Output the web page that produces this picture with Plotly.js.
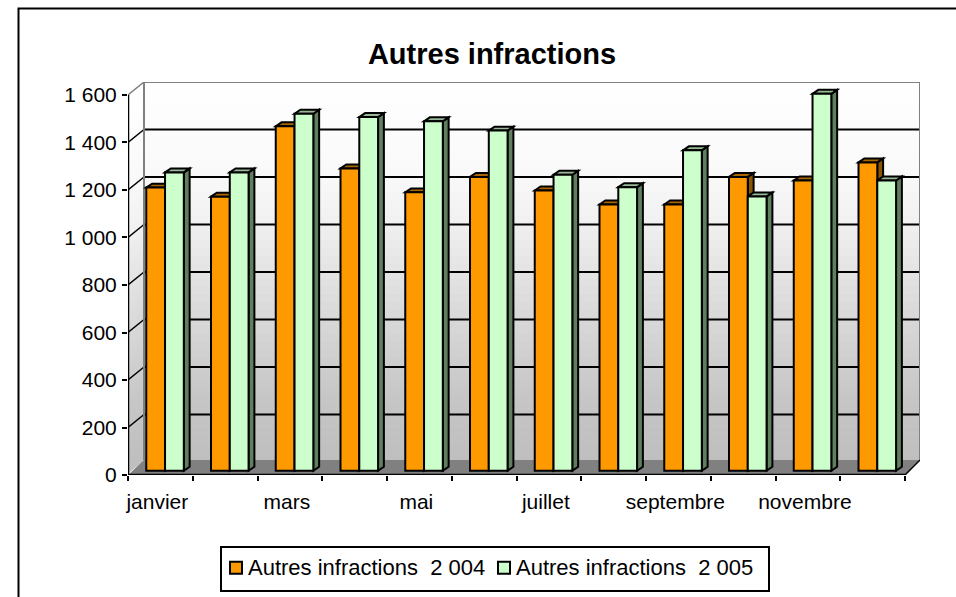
<!DOCTYPE html>
<html>
<head>
<meta charset="utf-8">
<script src="https://cdn.plot.ly/plotly-3.0.1.min.js"></script>
<style>html,body{margin:0;padding:0;background:#fff;overflow:hidden}</style>
</head>
<body>
<div id="chart" style="width:956px;height:597px"></div>
<script>
var months = ['janvier','février','mars','avril','mai','juin','juillet','août','septembre','octobre','novembre','décembre'];
var monthLabels = ['janvier','','mars','','mai','','juillet','','septembre','','novembre',''];
var values2004 = [1192,1154,1450,1273,1172,1237,1180,1121,1121,1237,1222,1298];
var values2005 = [1256,1256,1503,1489,1471,1432,1246,1194,1349,1155,1587,1222];
var yTickVals = [0,200,400,600,800,1000,1200,1400,1600];
var yTickText = ['0','200','400','600','800','1 000','1 200','1 400','1 600'];
var name2004 = 'Autres infractions\u00A0\u00A02 004';
var name2005 = 'Autres infractions\u00A0\u00A02 005';

var FONT = 'Liberation Sans, Arial, sans-serif';
var xMin = -0.5, xFront = 11.5, xMax = 11.7317;
var wallDx = xMax - xFront + 0.0154, wallDy = 54.7, floorDy = 63, yMax = 1654.7;
var barBase = 18, barW = 0.29, offA = -0.218, offB = 0.072, depthX = 0.09, depthY = 16.8;
var colA = '#ff9900', colB = '#ccffcc';
var topA = '#a86500', sideA = '#8a5400', topB = '#98b898', sideB = '#5f7f5f';

var shapes = [];
function poly(pts, fill, lw, lc, layer) {
  var d = pts.map(function (p, k) { return (k ? 'L' : 'M') + p[0] + ',' + p[1]; }).join(' ') + ' Z';
  shapes.push({type: 'path', xref: 'x', yref: 'y', path: d, fillcolor: fill,
    line: {width: lw, color: lc || fill}, layer: layer || 'below'});
}
function seg(x0, y0, x1, y1, w, c, layer) {
  shapes.push({type: 'line', xref: 'x', yref: 'y', x0: x0, y0: y0, x1: x1, y1: y1,
    line: {width: w, color: c}, layer: layer || 'below'});
}
// wall shading: grey level at fractions of the wall height (top to bottom)
var shadeStops = [[0,255],[0.25,249],[0.38,240],[0.58,220],[0.84,198],[1,190]];
function shade(f) {
  for (var k = 1; k < shadeStops.length; k++) {
    if (f <= shadeStops[k][0]) {
      var a = shadeStops[k-1], b = shadeStops[k];
      return a[1] + (b[1] - a[1]) * (f - a[0]) / (b[0] - a[0]);
    }
  }
  return 190;
}
var steps = 48;
for (var s = 0; s < steps; s++) {
  var f0 = s / steps, f1 = (s + 1) / steps;
  var g = Math.round(shade((f0 + f1) / 2));
  var c = 'rgb(' + g + ',' + g + ',' + g + ')';
  var yb0 = floorDy + (yMax - floorDy) * (1 - f1), yb1 = floorDy + (yMax - floorDy) * (1 - f0);
  poly([[xMin + wallDx, yb0], [xMax, yb0], [xMax, yb1], [xMin + wallDx, yb1]], c, 1, c);
  poly([[xMin, yb0 - wallDy], [xMin + wallDx, yb0], [xMin + wallDx, yb1], [xMin, yb1 - wallDy]], c, 1, c);
}
// floor
poly([[xMin, 0], [xMin + wallDx, floorDy], [xMax, floorDy], [xFront, 0]], '#808080', 0, '#808080');
// gridlines on the wall
yTickVals.forEach(function (v) {
  if (v === 0 || v === 1600) return;
  seg(xMin + wallDx, v + wallDy, xMax, v + wallDy, 2, '#000');
  seg(xMin, v, xMin + wallDx, v + wallDy, 1.5, '#000');
});
// wall outline
seg(xMin + wallDx, floorDy, xMin + wallDx, yMax, 2, '#808080');
seg(xMin + wallDx, yMax, xMax, yMax, 2, '#808080');
seg(xMax, yMax, xMax, floorDy, 2, '#808080');
seg(xMin, 1600, xMin + wallDx, yMax, 1.5, '#808080');
// 3D faces of the bars
function faces(i, off, v, top, side) {
  var xl = i + off, xr = xl + barW, yt = barBase + v;
  poly([[xr, barBase], [xr + depthX, barBase + depthY], [xr + depthX, yt + depthY], [xr, yt]], side, 2, '#000', 'between');
  poly([[xl, yt], [xl + depthX, yt + depthY], [xr + depthX, yt + depthY], [xr, yt]], top, 2, '#000', 'between');
}
months.forEach(function (m, i) {
  faces(i, offA, values2004[i], topA, sideA);
  faces(i, offB, values2005[i], topB, sideB);
});
// axis lines
seg(xMin, 0, xFront, 0, 2.5, '#000', 'above');
seg(xMin, 0, xMin, 1600, 2.5, '#000', 'above');
seg(xFront, 0, xMax, floorDy, 1.5, '#000', 'above');
// outer chart border (runs off the picture on the right and bottom)
shapes.push({type: 'path', xref: 'paper', yref: 'paper', layer: 'above',
  path: 'M' + ((18.5 - 128) / 792) + ',' + ((475 - 610) / 393) + ' L' + ((18.5 - 128) / 792) + ',' + ((475 - 8.5) / 393) +
        ' L' + ((970 - 128) / 792) + ',' + ((475 - 8.5) / 393),
  line: {width: 2, color: '#000'}});

var common = {type: 'bar', x: months, width: barW, base: barBase,
  hovertemplate: '%{x}: %{customdata}<extra></extra>'};
var traces = [
  Object.assign({}, common, {name: name2004, y: values2004, customdata: values2004, offset: offA,
    marker: {color: colA, line: {color: '#000', width: 2}}}),
  Object.assign({}, common, {name: name2005, y: values2005, customdata: values2005, offset: offB,
    marker: {color: colB, line: {color: '#000', width: 2}}})
];

var layout = {
  width: 956, height: 597, autosize: false,
  margin: {l: 128, r: 36, t: 82, b: 122, pad: 0},
  paper_bgcolor: '#fff', plot_bgcolor: 'rgba(0,0,0,0)',
  barmode: 'overlay',
  font: {family: FONT, color: '#000', size: 21},
  title: {text: 'Autres infractions', font: {family: FONT, size: 29, weight: 'bold', color: '#000'},
    x: 492 / 956, xanchor: 'center', xref: 'container', y: 1 - 54 / 597, yanchor: 'middle', yref: 'container'},
  xaxis: {type: 'category', categoryorder: 'array', categoryarray: months, range: [xMin, xMax],
    tickmode: 'array', tickvals: months, ticktext: monthLabels, tickson: 'boundaries',
    ticks: 'outside', ticklen: 5, tickwidth: 2, tickcolor: '#000', showgrid: false, zeroline: false,
    showline: false, tickangle: 0, ticklabelstandoff: 12, ticklabelshift: -3, tickfont: {family: FONT, size: 21, color: '#000'}},
  yaxis: {range: [0, yMax], tickmode: 'array', tickvals: yTickVals, ticktext: yTickText,
    ticks: 'outside', ticklen: 5, tickwidth: 2, tickcolor: '#000', showgrid: false, zeroline: false,
    showline: false, ticklabelstandoff: 1, tickfont: {family: FONT, size: 21, color: '#000'}},
  legend: {orientation: 'h', xref: 'container', yref: 'container', x: 220 / 956, xanchor: 'left', y: 1 - 546 / 597, yanchor: 'top',
    bgcolor: '#fff', bordercolor: '#000', borderwidth: 2, font: {family: FONT, size: 22, color: '#000'},
    entrywidth: 228, entrywidthmode: 'pixels', itemwidth: 30, traceorder: 'normal'},
  shapes: shapes,
  showlegend: true
};
var swatchShift = [-6, -11], textShift = [-14, -19];
Plotly.newPlot('chart', traces, layout, {displayModeBar: false, responsive: false}).then(function () {
  document.querySelectorAll('.legend .traces').forEach(function (t, i) {
    var sym = t.querySelector('.legendsymbols');
    if (sym) sym.setAttribute('transform', 'translate(' + swatchShift[i] + ',-1)');
    var txt = t.querySelector('.legendtext');
    if (txt) {
      txt.setAttribute('x', parseFloat(txt.getAttribute('x')) + textShift[i]);
      txt.setAttribute('y', parseFloat(txt.getAttribute('y') || 0) - 2);
    }
  });
});
</script>
</body>
</html>
